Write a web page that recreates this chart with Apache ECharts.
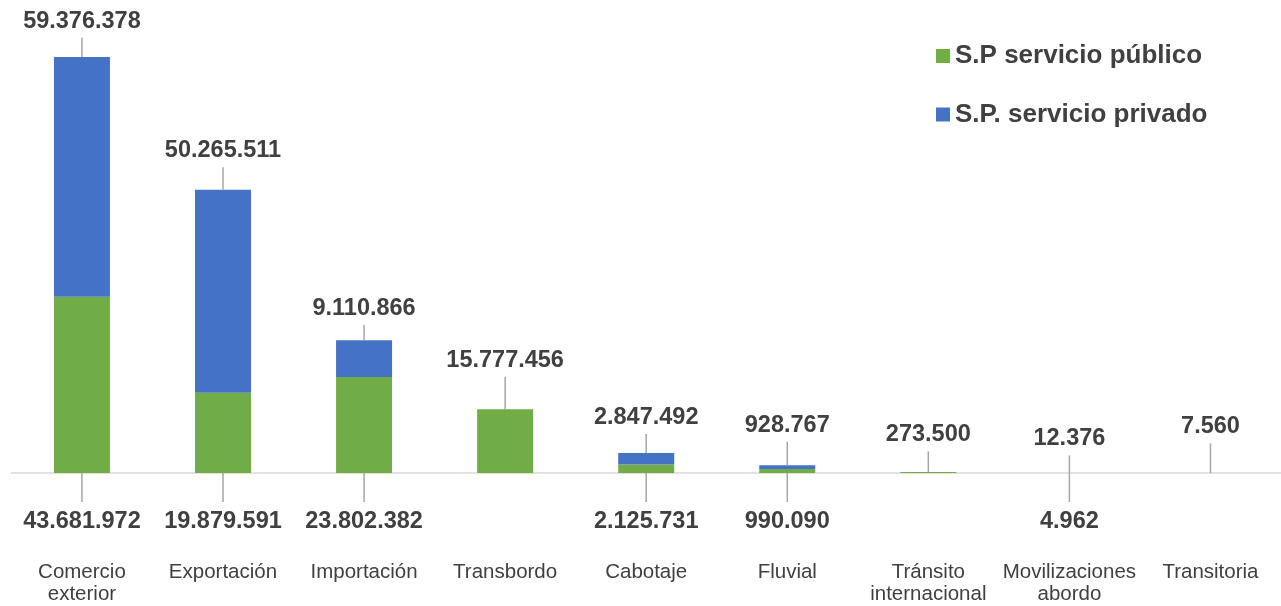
<!DOCTYPE html>
<html>
<head>
<meta charset="utf-8">
<script src="https://cdn.jsdelivr.net/npm/echarts@6/dist/echarts.min.js"></script>
<style>
  html, body { margin: 0; padding: 0; background: #ffffff; }
  #chart { width: 1281px; height: 606px; }
</style>
</head>
<body>
<div id="chart"></div>
<script>
// ---- data ----
const categories = ['Comercio\nexterior', 'Exportación', 'Importación', 'Transbordo', 'Cabotaje', 'Fluvial', 'Tránsito\ninternacional', 'Movilizaciones\nabordo', 'Transitoria'];
const publico = [43681972, 19879591, 23802382, 15777456, 2125731, 990090, 273500, 4962, 0];
const privado = [59376378, 50265511, 9110866, 0, 2847492, 928767, 0, 12376, 7560];
const seriesNames = ['S.P servicio público', 'S.P. servicio privado'];

// ---- callout styling (pixel rise of the top label centre above its bar) ----
const topRise = [36, 39, 32, 49, 35.5, 40, 37, 34, 46];
const bottomDrop = 49;

const FONT = '"Liberation Sans", Arial, Helvetica, sans-serif';
const TEXT = '#404040';
const LEADER = '#a6a6a6';

function fmt(n) {
  return String(n).replace(/\B(?=(\d{3})+(?!\d))/g, '.');
}

// callout records: [categoryIndex, anchorValue, labelValue, direction(1 up, -1 down)]
const callouts = [];
categories.forEach((c, i) => {
  const total = publico[i] + privado[i];
  const topVal = privado[i] > 0 ? privado[i] : publico[i];
  callouts.push([i, total, topVal, 1]);
  if (privado[i] > 0 && publico[i] > 0) callouts.push([i, 0, publico[i], -1]);
});

const chart = echarts.init(document.getElementById('chart'), null, { renderer: 'canvas' });

chart.setOption({
  animation: false,
  backgroundColor: '#ffffff',
  textStyle: { fontFamily: FONT },
  grid: { left: 11.4, width: 1271.3, top: 29, bottom: 132, containLabel: false },
  legend: {
    data: seriesNames,
    orient: 'vertical',
    left: 931,
    top: 36,
    icon: 'rect',
    itemWidth: 14,
    itemHeight: 14,
    itemGap: 28.5,
    itemTextGap: 7,
    textStyle: { fontFamily: FONT, fontSize: 26, fontWeight: 'bold', color: TEXT, lineHeight: 30 }
  },
  xAxis: {
    type: 'category',
    data: categories,
    axisLine: { show: true, lineStyle: { color: '#d9d9d9', width: 1.5 } },
    axisTick: { show: false },
    axisLabel: { fontFamily: FONT, fontSize: 20.5, color: TEXT, lineHeight: 22.5, margin: 88, interval: 0 },
    splitLine: { show: false }
  },
  yAxis: {
    type: 'value',
    min: 0,
    max: 110000000,
    show: false,
    splitLine: { show: false }
  },
  series: [
    {
      name: seriesNames[0],
      type: 'bar',
      stack: 'total',
      data: publico,
      barWidth: 56,
      itemStyle: { color: '#70AD47' },
      silent: true
    },
    {
      name: seriesNames[1],
      type: 'bar',
      stack: 'total',
      data: privado,
      barWidth: 56,
      itemStyle: { color: '#4472C4' },
      silent: true
    },
    {
      name: 'callouts',
      type: 'custom',
      coordinateSystem: 'cartesian2d',
      silent: true,
      clip: false,
      z: 10,
      encode: { x: 0, y: 1 },
      data: callouts,
      renderItem: function (params, api) {
        const cat = api.value(0);
        const anchor = api.value(1);
        const val = api.value(2);
        const dir = api.value(3);
        const p = api.coord([cat, anchor]);
        let cy, lineEnd;
        if (dir > 0) {
          cy = p[1] - topRise[cat];
          lineEnd = cy + 16.5;
        } else {
          cy = p[1] + bottomDrop;
          lineEnd = cy - 20;
        }
        return {
          type: 'group',
          children: [
            {
              type: 'line',
              shape: { x1: p[0], y1: p[1], x2: p[0], y2: lineEnd },
              style: { stroke: LEADER, lineWidth: 1.5 }
            },
            {
              type: 'text',
              style: {
                text: fmt(val),
                x: p[0],
                y: cy,
                align: 'center',
                verticalAlign: 'middle',
                font: 'bold 23.5px ' + FONT,
                fill: TEXT
              }
            }
          ]
        };
      }
    }
  ]
});
</script>
</body>
</html>
